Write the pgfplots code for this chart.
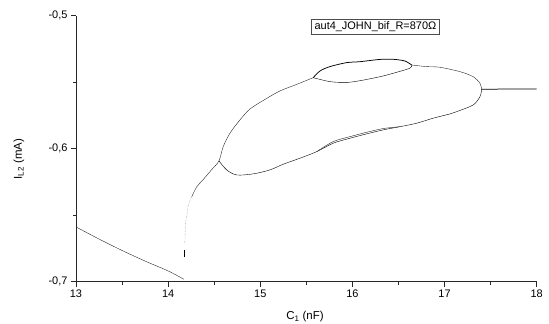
\documentclass[border=0pt]{standalone}
\usepackage{fontspec}
\setmainfont{Liberation Sans}
\usepackage{pgfplots}
\pgfplotsset{compat=1.18}
\usetikzlibrary{calc}
\begin{document}
\begin{tikzpicture}
\begin{axis}[
 scale only axis,
 width=461bp, height=266bp,
 xmin=13, xmax=18, ymin=-0.7, ymax=-0.5,
 axis lines*=left,
 axis line style={line width=0.9bp, black!85},
 xtick={13,14,15,16,17,18},
 minor x tick num=1,
 ytick={-0.7,-0.6,-0.5},
 yticklabels={{-0,7},{-0,6},{-0,5}},
 minor y tick num=1,
 tick align=outside,
 major tick length=5bp, minor tick length=3bp,
 tick style={line width=0.8bp, black!85},
 /pgf/number format/assume math mode=true,
 ticklabel style={font=\fontsize{11}{13}\selectfont},
 xlabel={C\textsubscript{1} (nF)},
 ylabel={I\textsubscript{L2} (mA)},
 label style={font=\fontsize{11.5}{13}\selectfont},
 xlabel style={at={(axis description cs:0.497,-0.133)}, anchor=center},
 ylabel style={at={(axis description cs:-0.124,0.46)}, anchor=center},
 clip=false,
 cycle list={{black!85, line width=0.75bp, no markers}},
 no markers,
]
\coordinate (sw) at (rel axis cs:0,0);
\coordinate (ne) at (rel axis cs:1,1);
% left branch
\addplot+[smooth] coordinates {(13.0,-0.6589) (13.25,-0.6680) (13.5,-0.6766) (13.75,-0.6846) (14.0,-0.6920) (14.172,-0.6983)};
% short dash at bottom of dotted curve
\addplot+[] coordinates {(14.172,-0.6817) (14.172,-0.6765)};
% dotted part
\addplot+[densely dotted, black!55] coordinates {(14.180,-0.6710) (14.183,-0.6686) (14.185,-0.6626) (14.190,-0.6559) (14.201,-0.6514) (14.215,-0.6438) (14.235,-0.6395) (14.256,-0.6363)};
% continuation to first bifurcation and upper main branch
\addplot+[smooth, tension=0.5] coordinates {(14.256,-0.6363) (14.310,-0.6288) (14.378,-0.6235) (14.470,-0.6160) (14.552,-0.6092) (14.598,-0.5985) (14.671,-0.5884) (14.780,-0.5784) (14.888,-0.5702) (15.051,-0.5630) (15.214,-0.5566) (15.395,-0.5517) (15.575,-0.5466)};
% bubble upper
\addplot+[smooth, tension=0.5] coordinates {(15.575,-0.5466) (15.648,-0.5416) (15.756,-0.5383) (15.938,-0.5353) (16.082,-0.5346) (16.299,-0.5329) (16.443,-0.5328) (16.570,-0.5341) (16.643,-0.5371)};
% bubble lower
\addplot+[smooth, tension=0.5] coordinates {(15.575,-0.5466) (15.756,-0.5496) (15.938,-0.5502) (16.082,-0.5489) (16.299,-0.5459) (16.443,-0.5433) (16.625,-0.5395) (16.643,-0.5371)};
% after bubble, upper branch to second merge
\addplot+[smooth, tension=0.5] coordinates {(16.643,-0.5371) (16.806,-0.5383) (16.950,-0.5388) (17.167,-0.5421) (17.311,-0.5459) (17.384,-0.5508) (17.403,-0.5553)};
% final single branch
\addplot+[] coordinates {(17.403,-0.5553) (18.0,-0.5551)};
% lower big branch
\addplot+[smooth, tension=0.5] coordinates {(14.552,-0.6092) (14.635,-0.6160) (14.744,-0.6198) (14.924,-0.6190) (15.105,-0.6160) (15.250,-0.6117) (15.431,-0.6072) (15.612,-0.6023) (15.792,-0.5959) (15.973,-0.5922) (16.155,-0.5889) (16.335,-0.5859) (16.516,-0.5835) (16.697,-0.5809) (16.877,-0.5771) (17.059,-0.5739) (17.131,-0.5722) (17.311,-0.5671) (17.384,-0.5609) (17.403,-0.5553)};
% doubled band
\addplot+[smooth, tension=0.5] coordinates {(15.612,-0.6023) (15.792,-0.5947) (15.973,-0.5910) (16.155,-0.5877) (16.335,-0.5849) (16.516,-0.5835)};
\node[draw=black!70, line width=0.6bp, fill=white, inner xsep=3bp, inner ysep=2.5bp, font=\fontsize{11}{13}\selectfont] at (rel axis cs:0.650,0.959) {aut4\_JOHN\_bif\_R=870Ω};
\end{axis}
\pgfresetboundingbox
\path ($(sw)+(-76bp,-42.3bp)$) rectangle ($(ne)+(12.3bp,15.7bp)$);
\end{tikzpicture}
\end{document}
